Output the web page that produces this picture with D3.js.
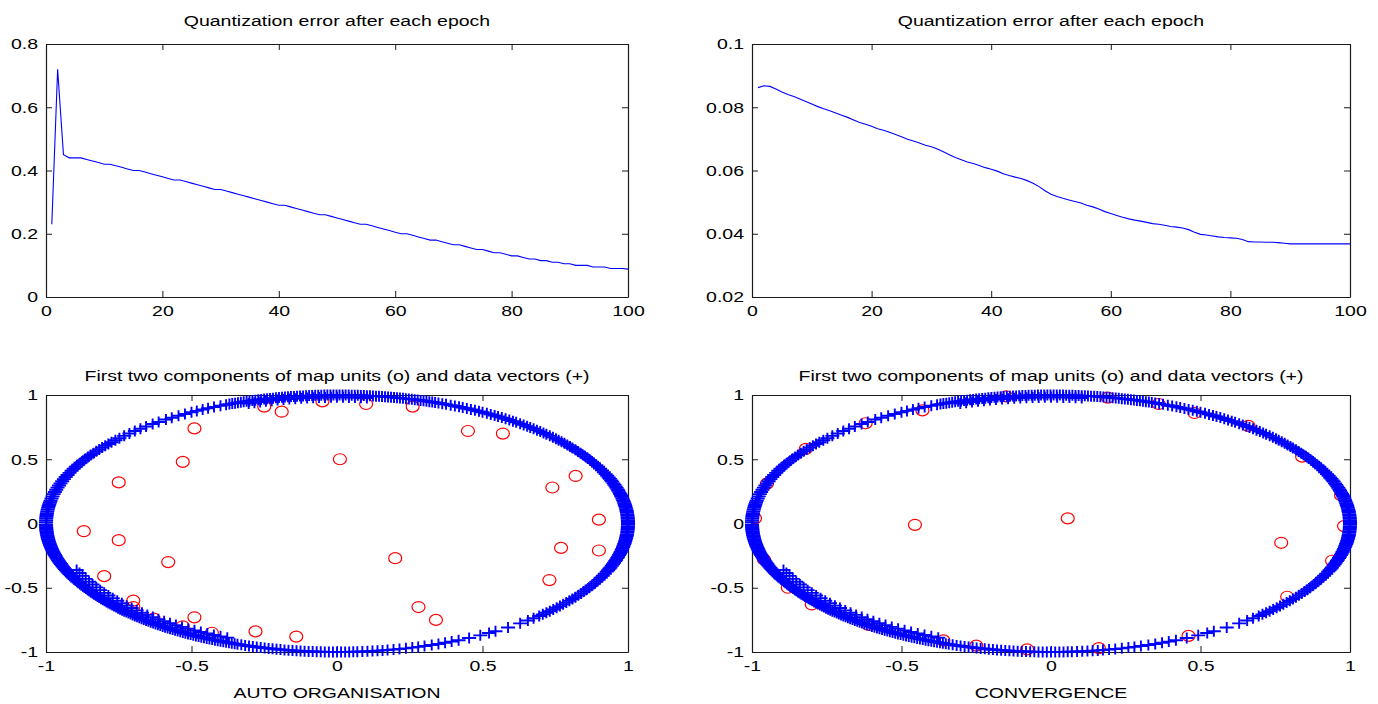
<!DOCTYPE html>
<html>
<head>
<meta charset="utf-8">
<script src="https://cdn.jsdelivr.net/npm/d3@7"></script>
<style>
  body { margin: 0; background: #fff; }
  svg { display: block; }
  text { font-family: "Liberation Sans", Arial, Helvetica, sans-serif; fill: #000; }
</style>
</head>
<body>
<svg id="fig" width="1378" height="704"></svg>
<script>
// ---------- data ----------
const epochs = d3.range(1, 101);

// quantization error per epoch, self-organisation phase
const errorAutoOrg = [
  0.23, 0.72, 0.45, 0.44, 0.44, 0.44, 0.435, 0.43, 0.425, 0.42,
  0.42, 0.415, 0.41, 0.405, 0.40, 0.40, 0.395, 0.39, 0.385, 0.38,
  0.375, 0.37, 0.37, 0.365, 0.36, 0.355, 0.35, 0.345, 0.34, 0.34,
  0.335, 0.33, 0.325, 0.32, 0.315, 0.31, 0.305, 0.30, 0.295, 0.29,
  0.29, 0.285, 0.28, 0.275, 0.27, 0.265, 0.26, 0.26, 0.255, 0.25,
  0.245, 0.24, 0.235, 0.23, 0.23, 0.225, 0.22, 0.215, 0.21, 0.205,
  0.20, 0.20, 0.195, 0.19, 0.185, 0.18, 0.18, 0.175, 0.17, 0.165,
  0.165, 0.16, 0.155, 0.15, 0.15, 0.145, 0.14, 0.14, 0.135, 0.13,
  0.13, 0.125, 0.12, 0.12, 0.115, 0.115, 0.11, 0.11, 0.105, 0.105,
  0.10, 0.10, 0.10, 0.095, 0.095, 0.095, 0.09, 0.09, 0.09, 0.088
];

// quantization error per epoch, convergence phase
const errorConvergence = [
  0.0862, 0.0868, 0.0866, 0.0858, 0.0848, 0.0840, 0.0834, 0.0826, 0.0818, 0.0810,
  0.0802, 0.0795, 0.0789, 0.0782, 0.0775, 0.0768, 0.0760, 0.0752, 0.0746, 0.0740,
  0.0732, 0.0727, 0.0721, 0.0714, 0.0707, 0.0699, 0.0693, 0.0687, 0.0680, 0.0675,
  0.0668, 0.0659, 0.0650, 0.0641, 0.0634, 0.0627, 0.0622, 0.0616, 0.0609, 0.0604,
  0.0598, 0.0590, 0.0584, 0.0579, 0.0575, 0.0568, 0.0560, 0.0549, 0.0536, 0.0525,
  0.0518, 0.0512, 0.0507, 0.0502, 0.0497, 0.0490, 0.0485, 0.0478, 0.0470, 0.0464,
  0.0458, 0.0452, 0.0447, 0.0443, 0.0440, 0.0436, 0.0432, 0.0430, 0.0427, 0.0423,
  0.0421, 0.0418, 0.0413, 0.0405, 0.0398, 0.0396, 0.0393, 0.0390, 0.0388, 0.0387,
  0.0386, 0.0382, 0.0375, 0.0374, 0.0374, 0.0373, 0.0373, 0.0372, 0.0370, 0.0368,
  0.0368, 0.0368, 0.0368, 0.0368, 0.0368, 0.0368, 0.0368, 0.0368, 0.0368, 0.0368
];

// data vectors: polar angle (degrees) of samples lying on the unit circle
const dataAngles = [
  // right
  -22, -21.3, -20.6, -20, -19.2, -18.5, -17.8, -17, -16.4, -15.6, -15, -14.2, -13.5, -12.8,
  -12, -11.4, -10.6, -10, -9.2, -8.5, -7.8, -7, -6.4, -5.6, -5, -4.2, -3.5, -2.8, -2, -1.4,
  -0.6, 0, 0.7, 1.4, 2.1, 2.8, 3.5, 4.2, 5, 5.6, 6.3, 7, 7.8, 8.4, 9.1, 9.8, 10.5, 11.2, 12,
  12.6, 13.3, 14, 14.8, 15.4, 16.1, 16.8, 17.5, 18.2, 19, 19.6, 20.3, 21, 21.8,
  // upper right
  22.6, 23.5, 24.4, 25.3, 26.2, 27, 28, 28.8, 29.7, 30.6, 31.5, 32.4, 33.2, 34.1, 35, 36,
  36.8, 37.7, 38.6, 39.5, 40.4, 41.2, 42.1, 43, 44, 44.8, 45.7, 46.6, 47.5, 48.4, 49.2, 50.1,
  51, 52, 52.8, 53.7, 54.6, 55.5, 56.4, 57.2, 58.1, 59, 60, 60.8, 61.7, 62.6, 63.5, 64.4,
  65.2, 66.1, 67, 68, 68.8, 69.6,
  // top
  70.3, 70.9, 71.5, 72.1, 72.7, 73.3, 73.9, 74.5, 75.1, 75.7, 76.3, 76.9, 77.5, 78.1, 78.7,
  79.3, 79.9, 80.5, 81.1, 81.7, 82.3, 82.9, 83.5, 84.1, 84.7, 85.3, 85.9, 86.5, 87.1, 87.7,
  88.3, 88.9, 89.5, 90.1, 90.7, 91.3, 91.9, 92.5, 93.1, 93.7, 94.3, 94.9, 95.5, 96.1, 96.7,
  97.3, 97.9, 98.5, 99.1, 99.7, 100.3, 100.9, 101.5, 102.1, 102.7, 103.3, 103.9, 104.5,
  105.1, 105.7, 106.3, 106.9, 107.5, 108.1, 108.7, 109.3, 109.9, 110.5, 111.1, 111.7,
  // upper left
  112.4, 113.6, 115, 116.3, 117.5, 118.8, 120, 121.5, 123, 124.6, 126, 127.8, 129.3, 131,
  132.5, 134, 135.5, 137, 138.4, 139.6, 140.8, 141.8, 142.8, 143.8, 144.8, 145.8, 146.8,
  147.8, 148.8, 149.8, 150.8, 151.8, 152.8, 153.8, 154.8, 155.8, 156.8, 157.8, 158.8, 159.8,
  160.8, 161.8, 162.8, 163.8, 164.8, 165.8, 166.8, 167.8, 168.8, 169.8, 170.6, 171.4, 172.2,
  173, 173.8, 174.6, 175.4, 176.2, 177, 177.8, 178.6, 179.4,
  // left and lower left
  -179.6, -179, -178.4, -177.8, -177.2, -176.6, -176, -175.4, -174.8, -174.2, -173.6, -173,
  -172.4, -171.8, -171.2, -170.6, -170, -169.4, -168.8, -168.2, -167.6, -167, -166.4, -165.8,
  -165.2, -164.6, -164, -163.4, -162.8, -162.2, -161.6, -161, -160.4, -159.8, -159.2, -158.6,
  -158, -157.4, -156.8, -156.2, -155.6, -155, -154.4, -153.8, -153.2, -152.6, -152, -151.4,
  -150.8, -150.2, -149.6, -149, -148.4, -147.8, -147.2, -146.6, -146, -145.4, -144.8, -144.2,
  -143.6, -143, -142.4, -141.8, -141.2, -140.6, -140, -139.4, -138.8, -138.2, -137.6, -137,
  -136.4, -135.8, -135.2, -134.6, -134, -133.4, -132.8, -132.2, -131.6, -131, -130.4, -129.8,
  -129.2, -128.6, -128, -127.4, -126.8, -126.2, -125.6, -125, -124.4, -123.8, -123.2, -122.6,
  -122, -121.4, -120.8, -120.2, -119.6, -119, -118.4, -117.8, -117.2, -116.6, -116, -115.4,
  -114.8, -114.2, -113.6, -113, -112.4, -111.8, -111.2, -110.6,
  // bottom
  -110, -109.2, -108.4, -107.6, -106.8, -106, -105.2, -104.4, -103.6, -102.8, -102, -101.2,
  -100.4, -99.6, -98.8, -98, -97.2, -96.4, -95.6, -94.8, -94, -93.2, -92.4, -91.6, -90.8, -90,
  -89.2, -88.4, -87.6, -86.8, -86, -85, -84, -83, -82, -81, -80,
  // lower right
  -78.8, -77.6, -76.3, -75, -73.8, -72.5, -71, -69.6, -68.2, -66.8, -65.3, -63, -60.5, -58.5,
  -57, -54, -51, -49, -47.5, -46, -45, -44, -43, -42, -41, -40, -39, -38, -37, -36, -35, -34,
  -33, -32, -31, -30, -29, -28, -27, -26, -25, -24, -23
];

// samples slightly inside the circle: lower-left part and top of the ring
const dataAnglesLowerInner = [
  -158, -156.5, -155, -153.5, -152, -150.5, -149, -147.5, -146, -144.5, -143, -141.5, -140,
  -138.5, -137, -135.5, -134, -132.5, -131, -129.5, -128, -126.5, -125, -123.5, -122, -120.5,
  -119, -117.5, -116, -114.5, -113
];
const lowerInnerRadius = 0.965;
const dataAnglesTopInner = [
  84, 85.2, 86.4, 87.6, 88.8, 90, 91.2, 92.4, 93.6, 94.8, 96, 97.2, 98.4, 99.6, 100.8, 102,
  103.2, 104.4, 105.6, 106.8, 108
];
const topInnerRadius = 0.982;

// map units (first two components) after self-organisation
const mapUnitsAutoOrg = [
  [-0.05, 0.95], [-0.25, 0.91], [-0.19, 0.87], [0.10, 0.93], [0.26, 0.91],
  [-0.49, 0.74], [0.45, 0.72], [0.57, 0.70], [-0.53, 0.48], [0.01, 0.50],
  [-0.75, 0.32], [0.82, 0.37], [0.74, 0.28], [0.90, 0.03], [-0.87, -0.06],
  [-0.75, -0.13], [0.77, -0.19], [0.90, -0.21], [-0.58, -0.30], [0.20, -0.27],
  [-0.80, -0.41], [0.73, -0.44], [-0.70, -0.60], [-0.70, -0.65], [0.28, -0.65],
  [0.34, -0.75], [-0.49, -0.73], [-0.63, -0.74], [-0.53, -0.80], [-0.43, -0.85],
  [-0.28, -0.84], [-0.14, -0.88]
];

// map units (first two components) after convergence
const mapUnitsConvergence = [
  [-0.455, -0.01], [0.056, 0.04], [0.77, -0.15],
  [-0.15, 0.99], [0.19, 0.98], [0.36, 0.93], [0.48, 0.86], [0.66, 0.76], [0.84, 0.52],
  [0.97, 0.22], [0.98, -0.02], [0.94, -0.29], [0.79, -0.57], [0.46, -0.875],
  [0.16, -0.97], [-0.08, -0.98], [-0.25, -0.95], [-0.36, -0.91], [-0.61, -0.79],
  [-0.80, -0.63], [-0.88, -0.50], [-0.96, -0.28], [-0.99, 0.04], [-0.95, 0.31],
  [-0.82, 0.58], [-0.62, 0.78], [-0.43, 0.88]
];

// tick values and their labels
const epochTicks = [0, 20, 40, 60, 80, 100];
const epochTickLabels = ["0", "20", "40", "60", "80", "100"];
const errTicksA = [0, 0.2, 0.4, 0.6, 0.8];
const errTickLabelsA = ["0", "0.2", "0.4", "0.6", "0.8"];
const errTicksB = [0.02, 0.04, 0.06, 0.08, 0.1];
const errTickLabelsB = ["0.02", "0.04", "0.06", "0.08", "0.1"];
const compTicks = [-1, -0.5, 0, 0.5, 1];
const compTickLabels = ["-1", "-0.5", "0", "0.5", "1"];

const titleError = "Quantization error after each epoch";
const titleMap = "First two components of map units (o) and data vectors (+)";
const xlabelAuto = "AUTO ORGANISATION";
const xlabelConv = "CONVERGENCE";

// ---------- drawing ----------
const svg = d3.select("#fig");
const FONT = 15;       // px
const STRETCH = 1.3;   // horizontal text scaling
const TICK = 6;

function stretch(sel) {
  sel.each(function () {
    const t = d3.select(this);
    const x = +t.attr("x") || 0;
    t.attr("x", x / STRETCH).attr("transform", `scale(${STRETCH},1)`);
  });
}

function addText(g, x, y, str) {
  g.append("text")
    .attr("x", x / STRETCH).attr("y", y)
    .attr("transform", `scale(${STRETCH},1)`)
    .attr("text-anchor", "middle")
    .attr("font-size", FONT)
    .text(str);
}

function panel(o) {
  const x = d3.scaleLinear().domain(o.xDomain).range([o.left, o.right]);
  const y = d3.scaleLinear().domain(o.yDomain).range([o.bottom, o.top]);
  const g = svg.append("g");

  const fmtX = (d) => o.xLabels[o.xTicks.indexOf(d)];
  const fmtY = (d) => o.yLabels[o.yTicks.indexOf(d)];

  const axB = g.append("g").attr("transform", `translate(0,${o.bottom})`)
    .call(d3.axisBottom(x).tickValues(o.xTicks).tickFormat(fmtX)
      .tickSizeInner(-TICK).tickSizeOuter(0).tickPadding(8));
  const axL = g.append("g").attr("transform", `translate(${o.left},0)`)
    .call(d3.axisLeft(y).tickValues(o.yTicks).tickFormat(fmtY)
      .tickSizeInner(-TICK).tickSizeOuter(0).tickPadding(8));
  const axT = g.append("g").attr("transform", `translate(0,${o.top})`)
    .call(d3.axisTop(x).tickValues(o.xTicks).tickFormat("")
      .tickSizeInner(-TICK).tickSizeOuter(0));
  const axR = g.append("g").attr("transform", `translate(${o.right},0)`)
    .call(d3.axisRight(y).tickValues(o.yTicks).tickFormat("")
      .tickSizeInner(-TICK).tickSizeOuter(0));

  [axB, axL, axT, axR].forEach((a) => {
    a.attr("font-family", null).attr("font-size", FONT);
    a.selectAll("path.domain").attr("stroke", "#1a1a1a").attr("stroke-width", 1.2);
    a.selectAll(".tick line").attr("stroke", "#1a1a1a").attr("stroke-width", 1);
    a.selectAll(".tick text").attr("fill", "#000");
  });
  stretch(axB.selectAll(".tick text"));
  stretch(axL.selectAll(".tick text"));

  const cx = (o.left + o.right) / 2;
  addText(g, cx, o.titleY, o.title);
  if (o.xlabel) addText(g, cx, o.xlabelY, o.xlabel);

  return { g, x, y };
}

// error-curve panels
function errorPanel(left, right, values, yDomain, yTicks, yLabels) {
  const p = panel({
    left, right, top: 44, bottom: 297,
    xDomain: [0, 100], yDomain,
    xTicks: epochTicks, xLabels: epochTickLabels,
    yTicks, yLabels,
    title: titleError, titleY: 26
  });
  const line = d3.line().x((d, i) => p.x(epochs[i])).y((d) => p.y(d));
  p.g.append("path").datum(values)
    .attr("d", line).attr("fill", "none")
    .attr("stroke", "#0000ff").attr("stroke-width", 1.1);
}

errorPanel(46, 628, errorAutoOrg, [0, 0.8], errTicksA, errTickLabelsA);
errorPanel(752, 1350, errorConvergence, [0.02, 0.1], errTicksB, errTickLabelsB);

// map-unit / data-vector panels
const rad = Math.PI / 180;
const onRing = (r) => (a) => [r * Math.cos(a * rad), r * Math.sin(a * rad)];
const dataPoints = dataAngles.map(onRing(1))
  .concat(dataAnglesLowerInner.map(onRing(lowerInnerRadius)))
  .concat(dataAnglesTopInner.map(onRing(topInnerRadius)));

function mapPanel(left, right, units, xlabel) {
  const p = panel({
    left, right, top: 395, bottom: 652,
    xDomain: [-1, 1], yDomain: [-1, 1],
    xTicks: compTicks, xLabels: compTickLabels,
    yTicks: compTicks, yLabels: compTickLabels,
    title: titleMap, titleY: 381,
    xlabel, xlabelY: 698
  });
  p.g.append("g").selectAll("ellipse").data(units).join("ellipse")
    .attr("cx", (d) => p.x(d[0])).attr("cy", (d) => p.y(d[1]))
    .attr("rx", 6.5).attr("ry", 5.5)
    .attr("fill", "none").attr("stroke", "#ff0000").attr("stroke-width", 1.2);
  p.g.append("g").selectAll("path").data(dataPoints).join("path")
    .attr("transform", (d) => `translate(${p.x(d[0])},${p.y(d[1])})`)
    .attr("d", "M-7,0H7M0,-5.5V5.5")
    .attr("fill", "none").attr("stroke", "#0000ff").attr("stroke-width", 1.9);
}

mapPanel(46, 628, mapUnitsAutoOrg, xlabelAuto);
mapPanel(752, 1350, mapUnitsConvergence, xlabelConv);
</script>
</body>
</html>
